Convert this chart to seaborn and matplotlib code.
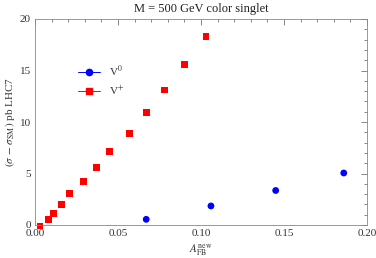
import matplotlib
matplotlib.use("Agg")
import matplotlib.pyplot as plt
import seaborn as sns
import pandas as pd
from matplotlib.ticker import MultipleLocator

# data
afb_plus = [0.003, 0.008, 0.011, 0.016, 0.021, 0.029, 0.037, 0.045, 0.057, 0.067, 0.078, 0.090, 0.103]
xs_plus = [-0.1, 0.5, 1.15, 2.0, 3.05, 4.2, 5.6, 7.1, 8.9, 10.9, 13.1, 15.6, 18.3]
afb_zero = [0.067, 0.106, 0.145, 0.186]
xs_zero = [0.55, 1.85, 3.35, 5.05]

df = pd.concat([
    pd.DataFrame({"afb": afb_zero, "xs": xs_zero, "model": "V0"}),
    pd.DataFrame({"afb": afb_plus, "xs": xs_plus, "model": "V+"}),
])

sns.set_style("white")
plt.rcParams["font.family"] = ["Liberation Serif", "DejaVu Serif"]
plt.rcParams["mathtext.fontset"] = "stix"

fig = plt.figure(figsize=(3.76, 2.58), dpi=100)
ax = fig.add_axes([35/376, 33/258, 332/376, 206/258])

sns.scatterplot(data=df, x="afb", y="xs", hue="model", style="model",
                palette={"V0": "#0000ff", "V+": "#ff0000"},
                markers={"V0": "o", "V+": "s"}, s=24, linewidth=0,
                legend=False, ax=ax, clip_on=False)

ax.set_xlim(0, 0.2)
ax.set_ylim(0, 20)
ax.xaxis.set_major_locator(MultipleLocator(0.05))
ax.xaxis.set_minor_locator(MultipleLocator(0.01))
ax.yaxis.set_major_locator(MultipleLocator(5))
ax.yaxis.set_minor_locator(MultipleLocator(1))
ax.xaxis.set_major_formatter(plt.FuncFormatter(lambda v, p: f"{v:.2f}"))
ax.tick_params(which="both", direction="in", top=True, right=True, colors="#555555",
               labelcolor="#333333", labelsize=8, width=0.5, pad=3)
ax.tick_params(which="major", length=4)
ax.tick_params(which="minor", length=2)
for sp in ax.spines.values():
    sp.set_color("#888888")
    sp.set_linewidth(0.6)

ax.set_xlabel(r"$A_{\mathrm{FB}}^{\mathrm{new}}$", fontsize=8, color="#333333", labelpad=3)
ax.set_ylabel(r"$(\sigma\,-\,\sigma_{\mathrm{SM}})$ pb LHC7", fontsize=8, color="#333333", labelpad=2)
ax.set_title("M = 500 GeV color singlet", fontsize=9, color="#222222", pad=5)

# legend
ax.plot([], [], color="#0000ff", marker="o", markersize=4.5, lw=0.7, label="V$^0$")
ax.plot([], [], color="#ff0000", marker="s", markersize=4, lw=0.7, label="V$^{+}$")
ax.legend(loc="upper left", bbox_to_anchor=(0.1, 0.83), frameon=False, fontsize=8,
          handlelength=2.0, labelspacing=0.45, labelcolor="#333333")

fig.savefig("out.png", dpi=100)
